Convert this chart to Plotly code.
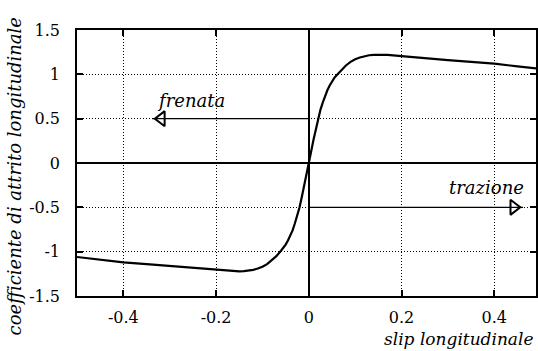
import plotly.graph_objects as go

# curve data (right half); left half is point-mirrored
slip_pos = [0.0, 0.005, 0.01, 0.015, 0.02, 0.025, 0.03, 0.035, 0.04, 0.045, 0.05, 0.055, 0.06, 0.07, 0.08, 0.09, 0.1, 0.11, 0.12, 0.13, 0.14, 0.15, 0.17, 0.2, 0.25, 0.3, 0.35, 0.4, 0.45, 0.5]
mu_pos = [0.0, 0.13, 0.26, 0.38, 0.5, 0.6, 0.68, 0.76, 0.82, 0.875, 0.92, 0.96, 0.99, 1.05, 1.10, 1.14, 1.17, 1.19, 1.205, 1.215, 1.22, 1.222, 1.22, 1.205, 1.18, 1.16, 1.14, 1.12, 1.09, 1.06]

slip = [-s for s in slip_pos[::-1]] + slip_pos[1:]
mu = [-m for m in mu_pos[::-1]] + mu_pos[1:]

x_ticks = [-0.4, -0.2, 0, 0.2, 0.4]
x_ticklabels = ["-0.4", "-0.2", "0", "0.2", "0.4"]
y_ticks = [-1.5, -1, -0.5, 0, 0.5, 1, 1.5]
y_ticklabels = ["-1.5", "-1", "-0.5", "0", "0.5", "1", "1.5"]

# arrows: (start x, end x, y)
brake_arrow = [0.0, -0.338, 0.5]
traction_arrow = [0.0, 0.462, -0.5]

serif = "DejaVu Serif"

fig = go.Figure()
fig.add_trace(go.Scatter(x=slip, y=mu, mode="lines", line=dict(color="black", width=2.2), showlegend=False))

# brake arrow
fig.add_trace(go.Scatter(x=brake_arrow[:2], y=[brake_arrow[2]] * 2, mode="lines", line=dict(color="black", width=1.3), showlegend=False))
fig.add_trace(go.Scatter(x=[brake_arrow[1] + 0.02], y=[brake_arrow[2]], mode="markers",
                         marker=dict(symbol="triangle-left-open", size=13, color="black", line=dict(width=2)), showlegend=False))
# traction arrow
fig.add_trace(go.Scatter(x=traction_arrow[:2], y=[traction_arrow[2]] * 2, mode="lines", line=dict(color="black", width=1.3), showlegend=False))
fig.add_trace(go.Scatter(x=[traction_arrow[1] - 0.02], y=[traction_arrow[2]], mode="markers",
                         marker=dict(symbol="triangle-right-open", size=13, color="black", line=dict(width=2)), showlegend=False))

fig.add_annotation(x=-0.254, y=0.71, text="<i>frenata</i>", showarrow=False, font=dict(family=serif, size=18, color="black"))
fig.add_annotation(x=0.383, y=-0.28, text="<i>trazione</i>", showarrow=False, font=dict(family=serif, size=18, color="black"))

# axis titles as annotations
fig.add_annotation(xref="paper", yref="paper", x=1.0, y=-0.162, xanchor="right", yanchor="middle",
                   text="<i>slip longitudinale</i>", showarrow=False, font=dict(family=serif, size=17, color="black"))
fig.add_annotation(xref="paper", yref="paper", x=-0.137, y=0.45, xanchor="center", yanchor="middle", textangle=-90,
                   text="<i>coefficiente di attrito longitudinale</i>", showarrow=False, font=dict(family=serif, size=18, color="black"))

axis_common = dict(showgrid=True, gridcolor="black", griddash="1px,2px", gridwidth=1,
                   zeroline=True, zerolinecolor="black", zerolinewidth=2,
                   showline=True, linecolor="black", linewidth=1.5, mirror="ticks",
                   ticks="inside", ticklen=6, tickcolor="black", tickwidth=1.5,
                   tickfont=dict(family=serif, size=16, color="black"))

fig.update_xaxes(range=[-0.5, 0.49], tickvals=x_ticks, ticktext=x_ticklabels, ticklabelstandoff=6, **axis_common)
fig.update_yaxes(range=[-1.5, 1.5], tickvals=y_ticks, ticktext=y_ticklabels, ticklabelstandoff=12, **axis_common)

fig.update_layout(width=538, height=351, margin=dict(l=77, r=0, t=30, b=55),
                  plot_bgcolor="white", paper_bgcolor="white")

fig.write_html("out.html")
